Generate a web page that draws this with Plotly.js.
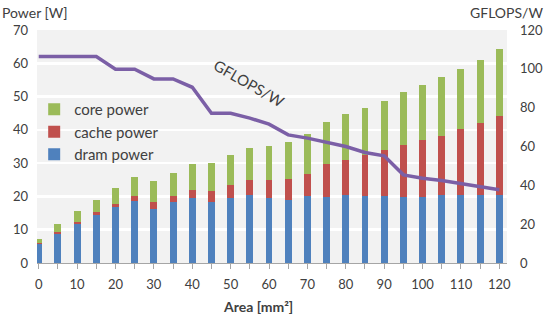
<!DOCTYPE html>
<html>
<head>
<meta charset="utf-8">
<script src="https://cdn.plot.ly/plotly-3.0.1.min.js"></script>
<style>html,body{margin:0;padding:0;background:#fff;}#chart{width:556px;height:323px;}</style>
</head>
<body>
<div id="chart"></div>
<script>
const area = [0,5,10,15,20,25,30,35,40,45,50,55,60,65,70,75,80,85,90,95,100,105,110,115,120];
const dramPower  = [5.7,8.8,11.7,14.3,16.7,18.7,16.3,18.3,19.5,18.2,19.5,20.5,19.5,19.0,20.0,19.7,20.4,20.0,20.0,19.7,19.7,20.4,20.4,20.4,20.4];
const cachePower = [0.2,0.4,0.7,0.9,1.1,1.5,2.0,1.9,2.5,3.3,3.9,4.3,5.3,6.3,6.8,9.9,10.6,12.5,13.8,15.8,17.3,17.9,19.8,21.8,23.9];
const corePower  = [1.3,2.6,3.1,3.8,4.7,5.6,6.4,6.9,7.6,8.4,9.0,9.7,10.4,11.2,11.9,12.9,13.7,14.2,15.0,15.9,16.4,17.6,18.1,18.9,20.0];
const gflopsPerW = [106.3,106.3,106.3,106.3,99.8,99.8,94.8,94.8,90.5,77.1,77.1,74.6,71.5,66.0,64.3,62.2,60.0,56.9,55.2,45.4,43.7,42.5,40.8,39.1,37.7];
const leftTicks = [0,10,20,30,40,50,60,70];
const rightTicks = [0,20,40,60,80,100,120];
const xTicks = [0,10,20,30,40,50,60,70,80,90,100,110,120];

const font = "Lato, 'Open Sans', sans-serif";
const barW = 1.8;
const traces = [
  {type:'bar', name:'dram power', x:area, y:dramPower, width:barW, marker:{color:'#4f81bd'}},
  {type:'bar', name:'cache power', x:area, y:cachePower, width:barW, marker:{color:'#c0504d'}},
  {type:'bar', name:'core power', x:area, y:corePower, width:barW, marker:{color:'#9bbb59'}},
  {type:'scatter', mode:'lines', name:'GFLOPS/W', x:area, y:gflopsPerW, yaxis:'y2', showlegend:false,
   line:{color:'#7b5fa6', width:3.5}}
];
const layout = {
  width:556, height:323,
  margin:{l:37, r:49, t:30, b:60},
  paper_bgcolor:'#ffffff', plot_bgcolor:'#f2f2f2',
  barmode:'stack',
  font:{family:font, size:13, color:'#404040'},
  showlegend:true,
  legend:{x:-0.006, y:0.73, xanchor:'left', yanchor:'top', bgcolor:'rgba(0,0,0,0)', traceorder:'reversed',
          font:{family:font, size:15, color:'#404040'}, itemwidth:30, tracegroupgap:0},
  xaxis:{range:[-0.45,122], tickvals:xTicks, ticks:'outside', ticklen:5, tickcolor:'#a6a6a6',
         showline:true, linecolor:'#a6a6a6', linewidth:1, showgrid:false, zeroline:false,
         minor:{dtick:5, tick0:0, ticks:'outside', ticklen:5, tickcolor:'#a6a6a6', showgrid:false},
         tickfont:{size:13, color:'#404040'}, ticklabelstandoff:4},
  yaxis:{range:[0,70], tickvals:leftTicks, showgrid:true, gridcolor:'#ffffff', gridwidth:2.5,
         zeroline:false, showline:false, ticks:'', ticklabelstandoff:8,
         tickfont:{size:13, color:'#404040'}},
  yaxis2:{range:[0,120], tickvals:rightTicks, overlaying:'y', side:'right', showgrid:false,
          zeroline:false, showline:false, ticks:'', ticklabelstandoff:12,
          tickfont:{size:13, color:'#404040'}},
  annotations:[
    {text:'Power [W]', xref:'paper', yref:'paper', x:-37/470, y:1+(30-12)/233, xanchor:'left', yanchor:'middle',
     showarrow:false, font:{family:font, size:14, color:'#404040'}},
    {text:'GFLOPS/W', xref:'paper', yref:'paper', x:1+(545-507)/470, y:1+(30-12)/233, xanchor:'right', yanchor:'middle',
     showarrow:false, font:{family:font, size:14, color:'#404040'}},
    {text:'<b>Area [mm²]</b>', xref:'paper', yref:'paper', x:(258-37)/470, y:-(306-263)/233, xanchor:'center', yanchor:'middle',
     showarrow:false, font:{family:font, size:14, color:'#404040'}},
    {text:'GFLOPS/W', xref:'paper', yref:'paper', x:(249-37)/470, y:(263-83)/233, xanchor:'center', yanchor:'middle',
     textangle:30, showarrow:false, font:{family:font, size:15, color:'#404040'}}
  ]
};
Plotly.newPlot('chart', traces, layout, {displayModeBar:false, staticPlot:true});
</script>
</body>
</html>
